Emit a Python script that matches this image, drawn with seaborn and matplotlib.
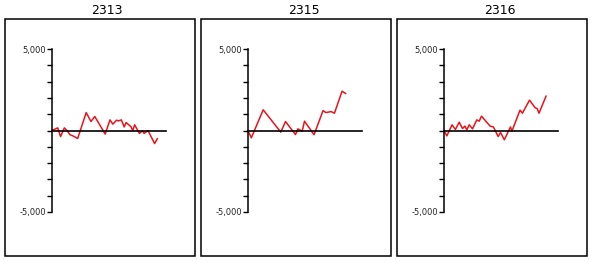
import matplotlib
matplotlib.use("Agg")
import matplotlib.pyplot as plt
from matplotlib.patches import Rectangle
import seaborn as sns
import pandas as pd

# ---- data ----
titles = ["2313", "2315", "2316"]

p1_x = [0, 6, 9, 13, 16, 19, 22, 27, 36, 41, 45, 56, 61, 64, 68, 70, 73, 76, 78, 83, 85, 87, 92, 95, 97, 101, 108, 111]
p1_y = [0, 160, -370, 160, -20, -260, -330, -490, 1100, 550, 860, -220, 650, 390, 630, 590, 650, 220, 490, 240, 0, 350, -180, -20, -180, 0, -800, -490]

p2_x = [0, 3.5, 16, 34.5, 39.5, 50, 52.5, 57, 59.5, 69.5, 79, 82, 87.5, 91, 99, 103]
p2_y = [0, -450, 1270, -100, 550, -250, 100, -40, 570, -260, 1220, 1100, 1160, 1060, 2410, 2260]

p3_x = [0, 3, 8.5, 12, 16, 19.5, 22, 24, 26.5, 30, 34.5, 37, 39.5, 48.5, 52, 57, 59.5, 63.5, 70, 71.5, 80, 82.5, 90, 96, 98, 100, 107.5]
p3_y = [0, -330, 350, 60, 510, 120, 270, 40, 350, 100, 650, 570, 880, 270, 220, -370, -120, -570, 220, -40, 1250, 1060, 1860, 1390, 1350, 1060, 2120]

y_ticks = list(range(-5000, 5001, 1000))
y_tick_labels = ["-5,000"] + [""] * 9 + ["5,000"]

series = [(p1_x, p1_y), (p2_x, p2_y), (p3_x, p3_y)]

# ---- style ----
sns.set_style("white")
plt.rcParams["font.family"] = ["DejaVu Sans"]

W, H = 592, 263
fig = plt.figure(figsize=(W / 100, H / 100), dpi=100)

panel_left = [5, 201, 397]
panel_w = 190
panel_top, panel_bot = 19, 256
title_cx = [107, 304, 500]

for i, (xs, ys) in enumerate(series):
    pl = panel_left[i]
    # outer frame
    fig.patches.append(Rectangle((pl / W, 1 - panel_bot / H), panel_w / W, (panel_bot - panel_top) / H,
                                 transform=fig.transFigure, fill=False, edgecolor="black", linewidth=1.1))
    fig.text(title_cx[i] / W, 1 - 10.5 / H, titles[i], ha="center", va="center", fontsize=9, color="black")

    ax_l = pl + 47
    ax_r = pl + 161
    ax = fig.add_axes([ax_l / W, 1 - 212 / H, (ax_r - ax_l) / W, (212 - 49) / H])
    ax.set_facecolor("none")
    df = pd.DataFrame({"x": xs, "y": ys})
    sns.lineplot(data=df, x="x", y="y", ax=ax, color="#e8141c", linewidth=1.1, estimator=None, sort=False)
    ax.set_xlim(0, 120)
    ax.set_ylim(-5000, 5000)
    ax.set_xlabel("")
    ax.set_ylabel("")
    ax.spines["top"].set_visible(False)
    ax.spines["right"].set_visible(False)
    ax.spines["bottom"].set_position(("data", 0))
    ax.spines["bottom"].set_linewidth(1.2)
    ax.spines["bottom"].set_color("black")
    ax.spines["left"].set_linewidth(1.1)
    ax.spines["left"].set_color("black")
    ax.set_xticks([])
    ax.set_yticks(y_ticks)
    ax.set_yticklabels(y_tick_labels)
    ax.tick_params(axis="y", left=True, length=3.5, width=1.0, pad=1, labelsize=6, color="black")

fig.savefig("out.png", dpi=100)
